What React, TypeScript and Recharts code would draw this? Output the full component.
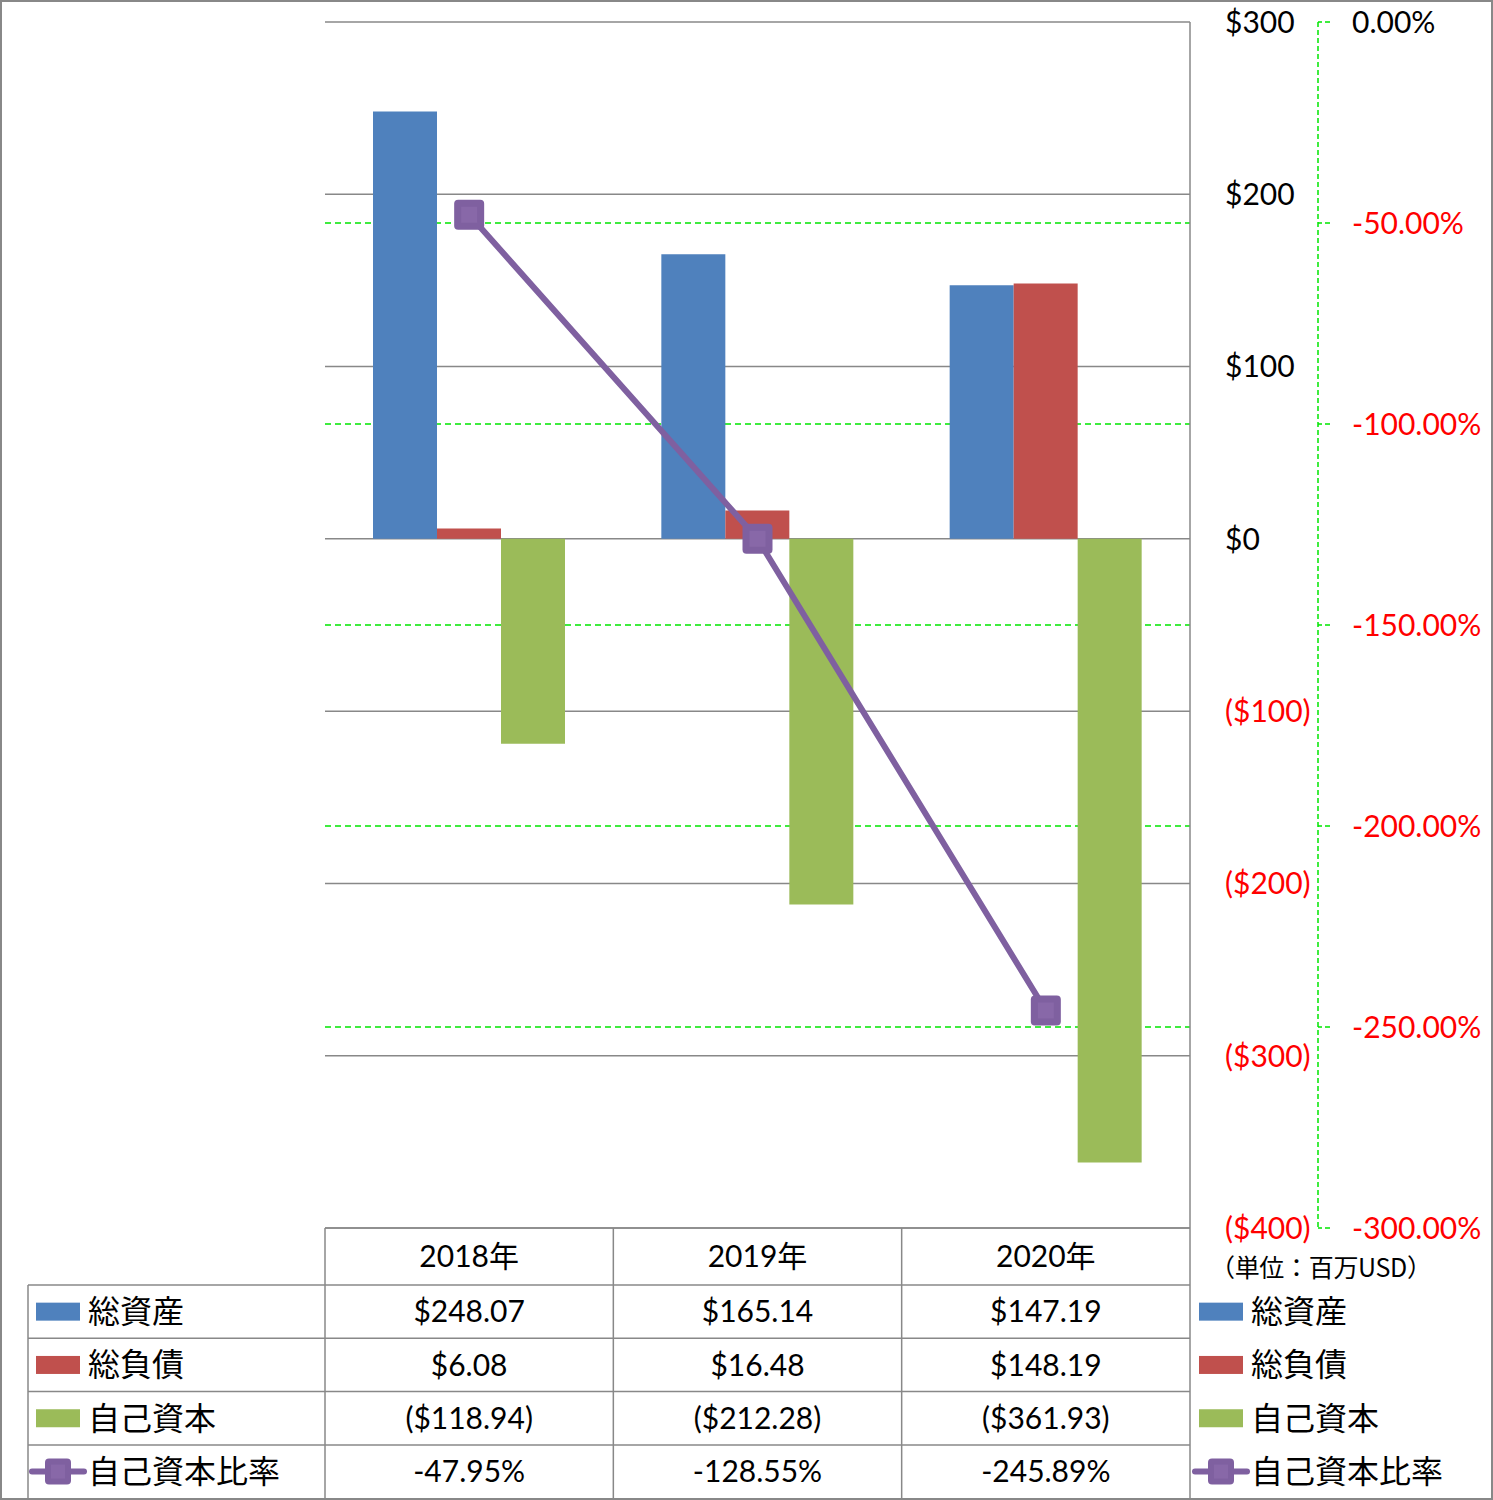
import { ComposedChart, Bar, Line, XAxis, YAxis, CartesianGrid } from "recharts";

const years = ["2018年", "2019年", "2020年"];
const totalAssets = [248.07, 165.14, 147.19];
const totalLiabilities = [6.08, 16.48, 148.19];
const equity = [-118.94, -212.28, -361.93];
const equityRatio = [-47.95, -128.55, -245.89];

const usdTicks = [300, 200, 100, 0, -100, -200, -300, -400];
const pctTicks = [0, -50, -100, -150, -200, -250, -300];
const pctGridValues = [-50, -100, -150, -200, -250];

const seriesNames = ["総資産", "総負債", "自己資本", "自己資本比率"];
const colors = ["#4F81BD", "#C0504D", "#9BBB59", "#7F60A0"];

const data = years.map((year, i) => ({
  year,
  assets: totalAssets[i],
  liabilities: totalLiabilities[i],
  equity: equity[i],
  ratio: equityRatio[i],
}));

const W = 1493;
const H = 1500;
const PLOT_L = 325;
const PLOT_R = 1190;
const PLOT_T = 22;
const PLOT_B = 1228;

// axis ids: the usd axis sits next to the plot, the pct axis outside it
const USD = "a_usd";
const PCT = "b_pct";

const NUM_FONT = "Lato, 'Noto Sans CJK JP', sans-serif";
const CJK_FONT = "'Noto Sans CJK JP', sans-serif";
const GRID_GREEN = "#00e600";

const fmtUsd = (v: number, digits = 2) =>
  v < 0 ? `($${Math.abs(v).toFixed(digits)})` : `$${v.toFixed(digits)}`;
const fmtPct = (v: number) => `${v.toFixed(2)}%`;

function UsdTick(props: any) {
  const { x, y, payload } = props;
  const v = payload.value as number;
  return (
    <text x={x} y={y} dy="0.36em" textAnchor="start" fontSize={30} fontFamily={NUM_FONT} fill={v < 0 ? "#ff0000" : "#000"}>
      {fmtUsd(v, 0)}
    </text>
  );
}

function PctTick(props: any) {
  const { x, y, payload } = props;
  const v = payload.value as number;
  return (
    <text x={x} y={y} dy="0.36em" textAnchor="start" fontSize={30} fontFamily={NUM_FONT} fill={v < 0 ? "#ff0000" : "#000"}>
      {fmtPct(v)}
    </text>
  );
}

function RatioDot(props: any) {
  const { cx, cy } = props;
  if (cx == null || cy == null) return null;
  return (
    <g>
      <rect x={cx - 15} y={cy - 15} width={30} height={30} rx={4} fill="#7F60A0" />
      <rect x={cx - 8} y={cy - 8} width={16} height={16} fill="#8868A8" />
    </g>
  );
}

function LegendKey({ i, x, y }: { i: number; x: number; y: number }) {
  if (i < 3) {
    return <rect x={x} y={y - 9} width={44} height={18} fill={colors[i]} />;
  }
  return (
    <g>
      <line x1={x - 4} x2={x + 48} y1={y} y2={y} stroke={colors[3]} strokeWidth={6} strokeLinecap="round" />
      <rect x={x + 9} y={y - 13} width={26} height={26} rx={4} fill={colors[3]} />
      <rect x={x + 15} y={y - 7} width={14} height={14} fill="#8868A8" />
    </g>
  );
}

function DataTable() {
  const colW = (PLOT_R - PLOT_L) / years.length;
  const headerTop = PLOT_B;
  const rowTop = 1285;
  const rowH = 53.3;
  const bottom = H - 2;
  const rows = [
    totalAssets.map((v) => fmtUsd(v)),
    totalLiabilities.map((v) => fmtUsd(v)),
    equity.map((v) => fmtUsd(v)),
    equityRatio.map((v) => fmtPct(v)),
  ];
  return (
    <svg width={W} height={H} style={{ position: "absolute", left: 0, top: 0, pointerEvents: "none" }}>
      <rect x={1} y={1} width={W - 2} height={H - 2} fill="none" stroke="#888" strokeWidth={2} />
      <line x1={PLOT_R} x2={PLOT_R} y1={PLOT_T} y2={bottom} stroke="#888" strokeWidth={1.5} />
      {[0, 1, 2].map((i) => (
        <line key={i} x1={PLOT_L + i * colW} x2={PLOT_L + i * colW} y1={headerTop} y2={bottom} stroke="#888" strokeWidth={1.5} />
      ))}
      <line x1={28} x2={28} y1={rowTop} y2={bottom} stroke="#888" strokeWidth={1.5} />
      <line x1={PLOT_L} x2={PLOT_R} y1={headerTop} y2={headerTop} stroke="#888" strokeWidth={1.5} />
      {[0, 1, 2, 3].map((r) => (
        <line key={r} x1={28} x2={PLOT_R} y1={rowTop + r * rowH} y2={rowTop + r * rowH} stroke="#888" strokeWidth={1.5} />
      ))}
      {years.map((y, i) => (
        <text key={y} x={PLOT_L + (i + 0.5) * colW} y={(headerTop + rowTop) / 2} dy="0.36em" textAnchor="middle" fontSize={30} fontFamily={NUM_FONT} fill="#000">
          {y}
        </text>
      ))}
      {rows.map((vals, r) => {
        const cy = rowTop + (r + 0.5) * rowH;
        return (
          <g key={r}>
            <LegendKey i={r} x={36} y={cy} />
            <text x={88} y={cy} dy="0.36em" fontSize={32} fontFamily={CJK_FONT} fill="#000">
              {seriesNames[r]}
            </text>
            {vals.map((t, i) => (
              <text key={i} x={PLOT_L + (i + 0.5) * colW} y={cy} dy="0.36em" textAnchor="middle" fontSize={30} fontFamily={NUM_FONT} fill="#000">
                {t}
              </text>
            ))}
            <LegendKey i={r} x={1199} y={cy} />
            <text x={1251} y={cy} dy="0.36em" fontSize={32} fontFamily={CJK_FONT} fill="#000">
              {seriesNames[r]}
            </text>
          </g>
        );
      })}
      <text x={1210} y={1268} dy="0.36em" fontSize={25} fontFamily={CJK_FONT} fill="#000" textLength={222}>
        （単位：百万USD）
      </text>
    </svg>
  );
}

export default function App() {
  return (
    <div style={{ position: "absolute", left: 0, top: 0, width: W, height: H, background: "#fff" }}>
      <ComposedChart
        width={W}
        height={H}
        data={data}
        margin={{ top: PLOT_T, left: PLOT_L, right: 0, bottom: H - PLOT_B }}
        barCategoryGap={48}
        barGap={0}
      >
        <XAxis dataKey="year" hide />
        <YAxis
          yAxisId={USD}
          orientation="right"
          width={128}
          domain={[-400, 300]}
          ticks={usdTicks}
          interval={0}
          axisLine={false}
          tickLine={false}
          tickSize={0}
          tickMargin={35}
          tick={<UsdTick />}
        />
        <YAxis
          yAxisId={PCT}
          orientation="right"
          width={175}
          domain={[-300, 0]}
          ticks={pctTicks}
          interval={0}
          axisLine={{ stroke: GRID_GREEN, strokeDasharray: "5 3", strokeWidth: 1.5 }}
          tickLine={{ stroke: GRID_GREEN, strokeDasharray: "5 3", strokeWidth: 1.5 }}
          tickSize={12}
          tickMargin={22}
          tick={<PctTick />}
        />
        <CartesianGrid
          yAxisId={PCT}
          vertical={false}
          horizontalValues={pctGridValues}
          stroke={GRID_GREEN}
          strokeDasharray="6 4"
          strokeWidth={1.5}
        />
        <CartesianGrid yAxisId={USD} vertical={false} stroke="#888" strokeWidth={1.5} />
        <Bar yAxisId={USD} dataKey="assets" fill={colors[0]} isAnimationActive={false} />
        <Bar yAxisId={USD} dataKey="liabilities" fill={colors[1]} isAnimationActive={false} />
        <Bar yAxisId={USD} dataKey="equity" fill={colors[2]} isAnimationActive={false} />
        <Line
          yAxisId={PCT}
          dataKey="ratio"
          stroke={colors[3]}
          strokeWidth={6}
          dot={<RatioDot />}
          activeDot={false}
          isAnimationActive={false}
        />
      </ComposedChart>
      <DataTable />
    </div>
  );
}
